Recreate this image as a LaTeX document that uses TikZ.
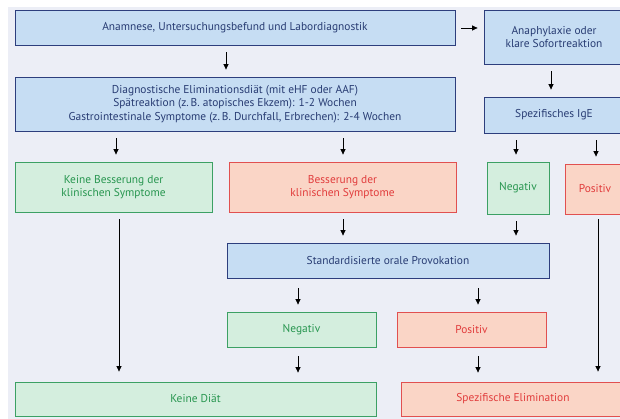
\documentclass[tikz,border=0pt]{standalone}
\usepackage{fontspec}
\setmainfont{PT Sans}
\usetikzlibrary{arrows.meta}
\definecolor{bgc}{RGB}{236,238,246}
\definecolor{bfill}{RGB}{198,221,243}
\definecolor{bdraw}{RGB}{45,62,125}
\definecolor{btext}{RGB}{40,60,115}
\definecolor{gfill}{RGB}{212,238,222}
\definecolor{gdraw}{RGB}{60,160,100}
\definecolor{gtext}{RGB}{40,150,80}
\definecolor{rfill}{RGB}{250,213,198}
\definecolor{rdraw}{RGB}{225,80,80}
\definecolor{rtext}{RGB}{225,60,60}
\tikzset{
  box/.style={inner sep=0pt, align=center, line width=0.8pt, font=\fontsize{11.4}{13.5}\selectfont},
  bbox/.style={box, fill=bfill, draw=bdraw, text=btext},
  gbox/.style={box, fill=gfill, draw=gdraw, text=gtext},
  rbox/.style={box, fill=rfill, draw=rdraw, text=rtext},
  arr/.style={line width=0.7pt, -{Triangle[length=5.5pt,width=5pt]}, shorten <=7pt, shorten >=7pt},
}
\begin{document}
\begin{tikzpicture}[x=1pt,y=-1pt]
\useasboundingbox (0,0) rectangle (620,419);
\fill[bgc] (8,7) rectangle (625,425);
% nodes: centre and size
\node[bbox, minimum width=440, minimum height=35] (A) at (235,27.5) {Anamnese, Untersuchungsbefund und Labordiagnostik};
\node[bbox, minimum width=140, minimum height=54] (B) at (554,37) {Anaphylaxie oder\\klare Sofortreaktion};
\node[bbox, minimum width=440, minimum height=54] (C) at (235,104) {Diagnostische Eliminationsdiät (mit eHF oder AAF)\\Spätreaktion (z.\,B. atopisches Ekzem): 1-2 Wochen\\Gastrointestinale Symptome (z.\,B. Durchfall, Erbrechen): 2-4 Wochen};
\node[bbox, minimum width=140, minimum height=36] (D) at (554,115) {Spezifisches IgE};
\node[gbox, minimum width=197, minimum height=50] (E) at (113.5,187) {Keine Besserung der\\klinischen Symptome};
\node[rbox, minimum width=227, minimum height=50] (F) at (342.5,187) {Besserung der\\klinischen Symptome};
\node[gbox, minimum width=62, minimum height=52] (G) at (518,188) {Negativ};
\node[rbox, minimum width=60, minimum height=50] (H) at (595,189) {Positiv};
\node[bbox, minimum width=322, minimum height=35] (I) at (388,260.5) {Standardisierte orale Provokation};
\node[gbox, minimum width=149, minimum height=35] (J) at (301.5,329.5) {Negativ};
\node[rbox, minimum width=149, minimum height=35] (K) at (471.5,329.5) {Positiv};
\node[gbox, minimum width=361, minimum height=34] (L) at (195.5,399) {Keine Diät};
\node[rbox, minimum width=224, minimum height=34] (M) at (513,399) {Spezifische Elimination};
% x positions for arrows
\coordinate (x116) at (116,0);
\coordinate (x119) at (119,0);
\coordinate (x226) at (226,0);
\coordinate (x298) at (298,0);
\coordinate (x343) at (343,0);
\coordinate (x478) at (478,0);
\coordinate (x516) at (516,0);
\coordinate (x551) at (551,0);
\coordinate (x596) at (596,0);
\coordinate (x598) at (598,0);
\coordinate (y28) at (0,28);
% arrows
\draw[arr, shorten <=6pt, shorten >=6pt] (A.east |- y28) -- (B.west |- y28);
\draw[arr] (A.south -| x226) -- (C.north -| x226);
\draw[arr] (B.south -| x551) -- (D.north -| x551);
\draw[arr] (C.south -| x116) -- (E.north -| x116);
\draw[arr] (C.south -| x343) -- (F.north -| x343);
\draw[arr] (D.south -| x516) -- (G.north -| x516);
\draw[arr] (D.south -| x596) -- (H.north -| x596);
\draw[arr] (F.south -| x343) -- (I.north -| x343);
\draw[arr] (G.south -| x516) -- (I.north -| x516);
\draw[arr, shorten >=10pt] (E.south -| x119) -- (L.north -| x119);
\draw[arr, shorten <=5pt, shorten >=10pt] (H.south -| x598) -- (M.north -| x598);
\draw[arr, shorten <=10pt] (I.south -| x298) -- (J.north -| x298);
\draw[arr, shorten <=10pt] (I.south -| x478) -- (K.north -| x478);
\draw[arr, shorten <=9pt, shorten >=9pt] (J.south -| x298) -- (L.north -| x298);
\draw[arr, shorten <=9pt, shorten >=9pt] (K.south -| x478) -- (M.north -| x478);
\end{tikzpicture}
\end{document}
